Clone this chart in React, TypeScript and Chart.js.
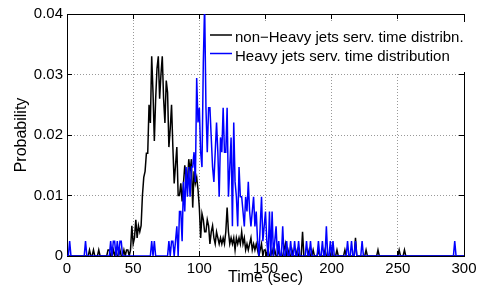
import React, { useEffect, useRef } from 'react';
import { Chart, registerables } from 'chart.js';

Chart.register(...registerables);

// time bins (seconds)
const timeSec: number[] = Array.from({ length: 301 }, (_, i) => i);

const seriesNames = ['non\u2212Heavy jets serv. time distribn.', 'Heavy jets serv. time distribution'];
const seriesColors = ['#000000', '#0000ff'];

const xTickValues = [0, 50, 100, 150, 200, 250, 300];
const yTickValues = [0, 0.01, 0.02, 0.03, 0.04];

// non-Heavy jets service time distribution, t = 0..300 s
const nonHeavyProb = [
  0, 0, 0, 0, 0, 0, 0, 0, 0, 0,
  0, 0, 0, 0, 0, 0, 0, 0.001, 0, 0,
  0.001, 0, 0, 0, 0.001, 0, 0, 0, 0, 0,
  0, 0.001, 0.001, 0, 0, 0.001, 0, 0.001, 0, 0,
  0.001, 0, 0, 0.001, 0, 0.001, 0.001, 0, 0.001, 0.005,
  0.002, 0.003, 0.006, 0.003, 0.005, 0.004, 0.005, 0.010, 0.013, 0.014,
  0.017, 0.017, 0.025, 0.022, 0.033, 0.027, 0.019, 0.026, 0.031, 0.033,
  0.026, 0.030, 0.033, 0.026, 0.022, 0.029, 0.027, 0.018, 0.021, 0.025,
  0.018, 0.012, 0.015, 0.018, 0.010, 0.010, 0.012, 0.009, 0.012, 0.015,
  0.013, 0.012, 0.016, 0.014, 0.016, 0.008, 0.014, 0.012, 0.013, 0.011,
  0.008, 0.003, 0.007, 0.006, 0.004, 0.004, 0.006, 0.005, 0.002, 0.004,
  0.005, 0.003, 0.002, 0.004, 0.003, 0.002, 0.003, 0.002, 0.003, 0.002,
  0.004, 0.008, 0.004, 0.002, 0.003, 0.002, 0.003, 0.001, 0.003, 0.002,
  0.003, 0.002, 0.004, 0.002, 0.003, 0.001, 0.002, 0.001, 0.002, 0.003,
  0.001, 0.002, 0.001, 0.002, 0.001, 0, 0.001, 0.002, 0, 0.001,
  0.001, 0, 0.001, 0, 0, 0.001, 0, 0.001, 0, 0,
  0.001, 0, 0, 0, 0.001, 0.002, 0, 0.001, 0, 0,
  0.001, 0, 0, 0, 0.001, 0, 0, 0, 0.004, 0,
  0, 0, 0, 0.001, 0, 0, 0.001, 0, 0, 0,
  0.001, 0, 0, 0, 0, 0.001, 0, 0, 0, 0,
  0.001, 0, 0, 0, 0.001, 0, 0, 0, 0, 0,
  0.001, 0, 0, 0, 0, 0, 0, 0, 0.003, 0,
  0, 0, 0, 0, 0, 0, 0.001, 0, 0, 0,
  0, 0, 0, 0, 0, 0.001, 0, 0, 0, 0,
  0, 0, 0, 0, 0, 0, 0, 0, 0, 0,
  0, 0.001, 0, 0, 0, 0.001, 0, 0, 0, 0,
  0, 0, 0, 0, 0, 0, 0, 0, 0, 0,
  0, 0, 0, 0, 0, 0, 0, 0, 0, 0,
  0, 0, 0, 0, 0, 0, 0, 0, 0, 0,
  0, 0, 0, 0, 0, 0, 0, 0, 0, 0,
  0,
];

// Heavy jets service time distribution, t = 0..300 s
const heavyProb = [
  0, 0, 0.00245, 0, 0, 0, 0, 0, 0, 0,
  0, 0, 0, 0, 0.00245, 0, 0, 0, 0, 0,
  0, 0, 0, 0, 0, 0, 0, 0, 0, 0,
  0, 0, 0, 0.00245, 0, 0.00245, 0.00245, 0, 0.00245, 0,
  0.00245, 0.00245, 0, 0, 0, 0, 0, 0, 0, 0,
  0, 0, 0, 0, 0, 0, 0, 0, 0, 0,
  0, 0, 0, 0, 0.00245, 0, 0.00245, 0, 0, 0,
  0, 0, 0, 0, 0, 0, 0, 0.00245, 0, 0.00245,
  0.00245, 0, 0.00245, 0.0049, 0, 0.00735, 0.00735, 0.00245, 0.01225, 0.00735,
  0.0147, 0.0098, 0.0147, 0.0098, 0.0147, 0.0147, 0.01716, 0.01225, 0.02941, 0.02206,
  0.02451, 0.01716, 0.0147, 0.03186, 0.04167, 0.02451, 0.01716, 0.02451, 0.02451, 0.0196,
  0.0147, 0.01225, 0.01716, 0.02206, 0.01716, 0.0098, 0.0196, 0.01716, 0.02451, 0.01716,
  0.01716, 0.02451, 0.0098, 0.0147, 0.0196, 0.0049, 0.02206, 0.01225, 0.0098, 0.0049,
  0.0147, 0.0098, 0.0098, 0.00735, 0.0049, 0.0098, 0.00735, 0.01225, 0.00735, 0.0049,
  0.00735, 0.0098, 0.0049, 0.00735, 0.00245, 0, 0.0049, 0.0098, 0.00245, 0.0049,
  0.00735, 0.00245, 0, 0.00735, 0, 0.00735, 0, 0.00245, 0.0049, 0,
  0.00245, 0, 0, 0.0049, 0, 0, 0.00245, 0, 0, 0.00245,
  0, 0, 0.00245, 0, 0, 0.00245, 0, 0, 0, 0,
  0, 0.00245, 0, 0, 0.00245, 0, 0, 0, 0, 0,
  0.00245, 0, 0, 0.00245, 0, 0, 0.0049, 0, 0, 0.00245,
  0, 0.00245, 0, 0, 0, 0, 0, 0, 0, 0,
  0, 0, 0.00245, 0, 0, 0.00245, 0, 0, 0.00245, 0,
  0, 0, 0, 0.00245, 0, 0, 0, 0, 0, 0,
  0, 0, 0, 0, 0, 0, 0, 0, 0, 0,
  0, 0, 0, 0, 0, 0, 0, 0, 0, 0,
  0, 0, 0, 0, 0, 0, 0, 0, 0, 0,
  0, 0, 0, 0, 0, 0, 0, 0, 0, 0,
  0, 0, 0, 0, 0, 0, 0, 0, 0, 0,
  0, 0, 0, 0, 0, 0, 0, 0, 0, 0,
  0, 0, 0, 0.00245, 0, 0, 0, 0, 0, 0,
  0,
];

const FONT = '"Liberation Sans", Arial, Helvetica, sans-serif';

const legendPlugin = {
  id: 'matlabLegend',
  afterDraw(chart: any) {
    const { ctx, chartArea } = chart;
    const boxLeft = chartArea.right - 257;
    const boxTop = chartArea.top + 8;
    ctx.save();
    ctx.fillStyle = '#ffffff';
    ctx.fillRect(boxLeft, boxTop, 267, 50);
    ctx.font = `15px ${FONT}`;
    ctx.textBaseline = 'alphabetic';
    ctx.textAlign = 'left';
    chart.data.datasets.forEach((ds: any, i: number) => {
      const rowY = boxTop + 13 + i * 18.5;
      ctx.strokeStyle = ds.borderColor;
      ctx.lineWidth = 1.5;
      ctx.beginPath();
      ctx.moveTo(boxLeft + 3, rowY);
      ctx.lineTo(boxLeft + 25, rowY);
      ctx.stroke();
      ctx.fillStyle = '#000';
      ctx.fillText(ds.label, boxLeft + 28, rowY + 7);
    });
    ctx.restore();
  },
};

const noPad = (s: any) => {
  s.paddingLeft = 0;
  s.paddingRight = 0;
  s.paddingTop = 0;
  s.paddingBottom = 0;
};

export default function App() {
  const canvasRef = useRef<HTMLCanvasElement | null>(null);

  useEffect(() => {
    if (!canvasRef.current) return;
    const tickFont = { family: FONT, size: 15 };
    const gridMain = {
      color: 'rgba(0,0,0,0.4)',
      lineWidth: 1,
      drawTicks: true,
      tickLength: -5,
      tickColor: '#000',
      tickWidth: 1,
    };
    const gridMirror = {
      drawOnChartArea: false,
      drawTicks: true,
      tickLength: -5,
      tickColor: '#000',
      tickWidth: 1,
    };
    const chart = new Chart(canvasRef.current, {
      type: 'line',
      data: {
        labels: timeSec,
        datasets: [
          {
            label: seriesNames[0],
            data: nonHeavyProb,
            borderColor: seriesColors[0],
            borderWidth: 1.5,
            pointRadius: 0,
            tension: 0,
            fill: false,
            order: 1,
          },
          {
            label: seriesNames[1],
            data: heavyProb,
            borderColor: seriesColors[1],
            borderWidth: 1.5,
            pointRadius: 0,
            tension: 0,
            fill: false,
            order: 0,
          },
        ],
      },
      options: {
        animation: false,
        responsive: false,
        maintainAspectRatio: false,
        devicePixelRatio: 1,
        layout: { padding: 0 },
        plugins: {
          legend: { display: false },
          tooltip: { enabled: false },
        },
        scales: {
          x: {
            type: 'linear',
            position: 'bottom',
            min: 0,
            max: 300,
            afterBuildTicks: (s: any) => { s.ticks = xTickValues.map((v) => ({ value: v })); },
            afterFit: (s: any) => { s.height = 34; noPad(s); },
            ticks: { color: '#000', font: tickFont, padding: 9, maxRotation: 0 },
            grid: gridMain,
            border: { display: true, color: '#000', width: 1, dash: [1, 2] },
            title: {
              display: true,
              text: 'Time (sec)',
              color: '#000',
              font: { family: FONT, size: 16 },
              padding: { top: 0, bottom: 3 },
            },
          },
          xTop: {
            type: 'linear',
            position: 'top',
            min: 0,
            max: 300,
            afterBuildTicks: (s: any) => { s.ticks = xTickValues.map((v) => ({ value: v })); },
            afterFit: (s: any) => { s.height = 14; noPad(s); },
            ticks: { display: false },
            grid: gridMirror,
            border: { display: true, color: '#000', width: 1 },
          },
          y: {
            type: 'linear',
            position: 'left',
            min: 0,
            max: 0.04,
            afterBuildTicks: (s: any) => { s.ticks = yTickValues.map((v) => ({ value: v })); },
            afterFit: (s: any) => { s.width = 67; noPad(s); },
            ticks: { color: '#000', font: tickFont, padding: 9 },
            grid: gridMain,
            border: { display: true, color: '#000', width: 1, dash: [1, 2] },
            title: {
              display: true,
              text: 'Probability',
              color: '#000',
              font: { family: FONT, size: 16 },
              padding: { top: 12, bottom: 0 },
            },
          },
          yRight: {
            type: 'linear',
            position: 'right',
            min: 0,
            max: 0.04,
            afterBuildTicks: (s: any) => { s.ticks = yTickValues.map((v) => ({ value: v })); },
            afterFit: (s: any) => { s.width = 13; noPad(s); },
            ticks: { display: false },
            grid: gridMirror,
            border: { display: true, color: '#000', width: 1 },
          },
        },
      } as any,
      plugins: [legendPlugin],
    });
    return () => chart.destroy();
  }, []);

  return (
    <div style={{ position: 'fixed', left: 0, top: 0, width: 477, height: 290, background: '#fff' }}>
      <canvas ref={canvasRef} width={477} height={290} style={{ width: 477, height: 290, display: 'block' }} />
    </div>
  );
}
